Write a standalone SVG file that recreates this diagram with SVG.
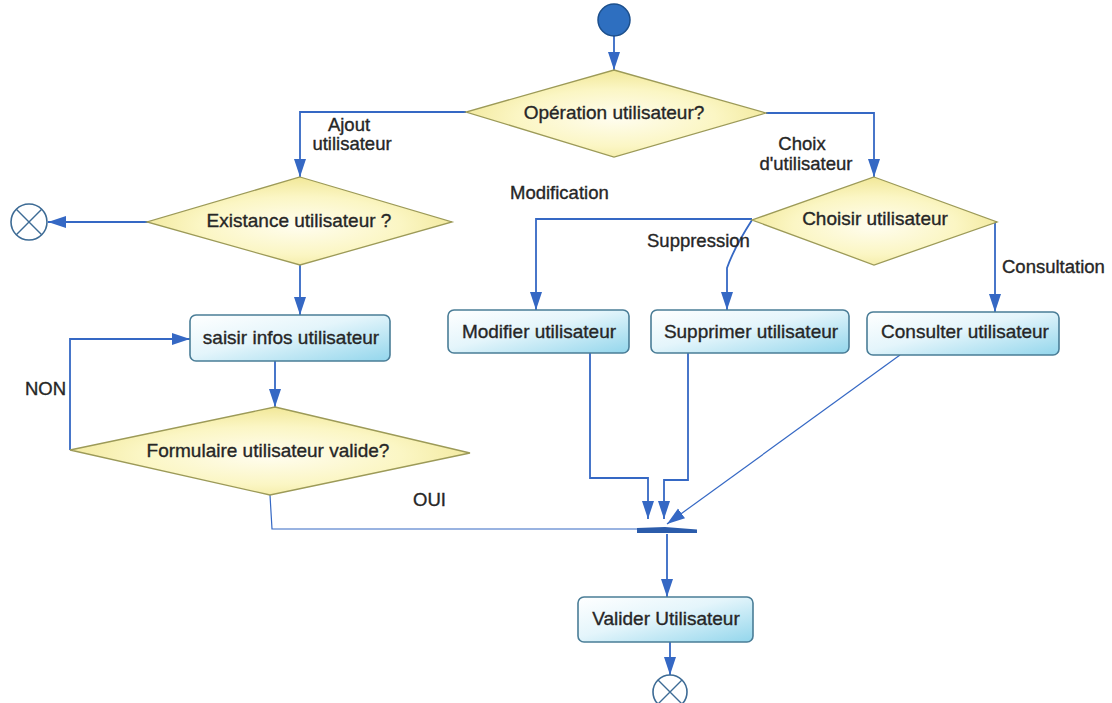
<svg xmlns="http://www.w3.org/2000/svg" width="1112" height="703" viewBox="0 0 1112 703">
  <defs>
    <radialGradient id="decisionFill" cx="50%" cy="55%" r="60%">
      <stop offset="0" stop-color="#fffdf0"/>
      <stop offset="0.55" stop-color="#fbf6c4"/>
      <stop offset="1" stop-color="#efe48e"/>
    </radialGradient>
    <linearGradient id="actionFill" x1="0" y1="0" x2="1" y2="1">
      <stop offset="0" stop-color="#ffffff"/>
      <stop offset="0.45" stop-color="#e4f5fb"/>
      <stop offset="1" stop-color="#93d6ec"/>
    </linearGradient>
    <marker id="arrow" markerUnits="userSpaceOnUse" markerWidth="20" markerHeight="14" refX="18" refY="6.5" orient="auto">
      <path d="M0,0.5 L18,6.5 L0,12.5 z" fill="#3568c4"/>
    </marker>
  </defs>
  <style>
    text { font-family: "Liberation Sans", Arial, sans-serif; font-size: 19px; fill: #262626; stroke: #262626; stroke-width: 0.35px; }
    .node text { text-anchor: middle; dominant-baseline: central; }
    .label { font-size: 18.5px; }
    .decision { fill: url(#decisionFill); stroke: #9c9a58; stroke-width: 1.3; }
    .action { fill: url(#actionFill); stroke: #4a7d97; stroke-width: 1.6; }
    .flow { fill: none; stroke: #3568c4; stroke-width: 1.8; }
    .thin { stroke-width: 1.2; }
    .end { fill: #ffffff; stroke: #3d6b95; stroke-width: 1.6; }
  </style>

  <rect width="1112" height="703" fill="#ffffff"/>

  <!-- connectors -->
  <g id="connectors">
    <path class="flow" d="M614,36 L614,70" marker-end="url(#arrow)"/>
    <path class="flow" d="M466,112 L300,112 L300,177" marker-end="url(#arrow)"/>
    <path class="flow" d="M766,113 L874,113 L874,177" marker-end="url(#arrow)"/>
    <path class="flow" d="M148,222 L48,222" marker-end="url(#arrow)"/>
    <path class="flow" d="M300,265 L300,315" marker-end="url(#arrow)"/>
    <path class="flow" d="M275,361 L275,407" marker-end="url(#arrow)"/>
    <path class="flow" d="M70,450 L70,339 L190,339" marker-end="url(#arrow)"/>
    <path class="flow thin" d="M270,495 L272,529 L638,529"/>
    <path class="flow" d="M752,219 L536,219 L536,310" marker-end="url(#arrow)"/>
    <path class="flow" d="M752,220 Q734,248 727,268 L727,310" marker-end="url(#arrow)"/>
    <path class="flow" d="M997,222 L995,222 L995,312" marker-end="url(#arrow)"/>
    <path class="flow" d="M590,353 L590,478 L648,478 L648,519" marker-end="url(#arrow)"/>
    <path class="flow" d="M688,353 L688,480 L664,480 L664,519" marker-end="url(#arrow)"/>
    <path class="flow thin" d="M900,355 L667,524" marker-end="url(#arrow)"/>
    <path class="flow" d="M667,534 L667,597" marker-end="url(#arrow)"/>
    <path class="flow" d="M670,642 L670,675" marker-end="url(#arrow)"/>
  </g>

  <!-- edge labels -->
  <g id="labels">
    <text class="label" x="349" y="131" text-anchor="middle">Ajout</text>
    <text class="label" x="352" y="150" text-anchor="middle">utilisateur</text>
    <text class="label" x="802" y="150" text-anchor="middle">Choix</text>
    <text class="label" x="806" y="170" text-anchor="middle">d'utilisateur</text>
    <text class="label" x="510" y="199">Modification</text>
    <text class="label" x="647" y="247">Suppression</text>
    <text class="label" x="1002" y="273">Consultation</text>
    <text class="label" x="25" y="395">NON</text>
    <text class="label" x="413" y="506">OUI</text>
  </g>

  <!-- start -->
  <g id="start" class="node">
    <circle cx="614" cy="20" r="16" fill="#2e6fc0" stroke="#1c4f8c" stroke-width="1.5"/>
  </g>

  <!-- decisions -->
  <g id="operation" class="node">
    <polygon class="decision" points="614,70 766,113 614,157 466,112"/>
    <text x="614" y="112">Opération utilisateur?</text>
  </g>
  <g id="existance" class="node">
    <polygon class="decision" points="300,177 452,222 300,265 147,222"/>
    <text x="299" y="220">Existance utilisateur ?</text>
  </g>
  <g id="formulaire" class="node">
    <polygon class="decision" points="275,407 470,453 270,495 70,450"/>
    <text x="268" y="450">Formulaire utilisateur valide?</text>
  </g>
  <g id="choisir" class="node">
    <polygon class="decision" points="874,177 997,222 874,265 752,220"/>
    <text x="875" y="218">Choisir utilisateur</text>
  </g>

  <!-- actions -->
  <g id="saisir" class="node">
    <rect class="action" x="190" y="315" width="200" height="46" rx="6"/>
    <text x="291" y="337">saisir infos utilisateur</text>
  </g>
  <g id="modifier" class="node">
    <rect class="action" x="448" y="310" width="181" height="43" rx="6"/>
    <text x="539" y="331">Modifier utilisateur</text>
  </g>
  <g id="supprimer" class="node">
    <rect class="action" x="651" y="310" width="198" height="43" rx="6"/>
    <text x="751" y="331">Supprimer utilisateur</text>
  </g>
  <g id="consulter" class="node">
    <rect class="action" x="867" y="312" width="192" height="43" rx="6"/>
    <text x="965" y="331">Consulter utilisateur</text>
  </g>
  <g id="valider" class="node">
    <rect class="action" x="578" y="597" width="175" height="45" rx="6"/>
    <text x="666" y="618">Valider Utilisateur</text>
  </g>

  <!-- join bar -->
  <g id="join" class="node">
    <path d="M637,528 L665,527 L697,529.5 L697,533 L637,533 z" fill="#2b5cab"/>
  </g>

  <!-- flow ends -->
  <g id="end-left" class="node">
    <circle class="end" cx="29" cy="222" r="18"/>
    <path d="M16.3,209.3 L41.7,234.7 M41.7,209.3 L16.3,234.7" stroke="#3d6b95" stroke-width="1.4"/>
  </g>
  <g id="end-bottom" class="node">
    <circle class="end" cx="670" cy="692" r="17"/>
    <path d="M658,680 L682,704 M682,680 L658,704" stroke="#3d6b95" stroke-width="1.4"/>
  </g>
</svg>
